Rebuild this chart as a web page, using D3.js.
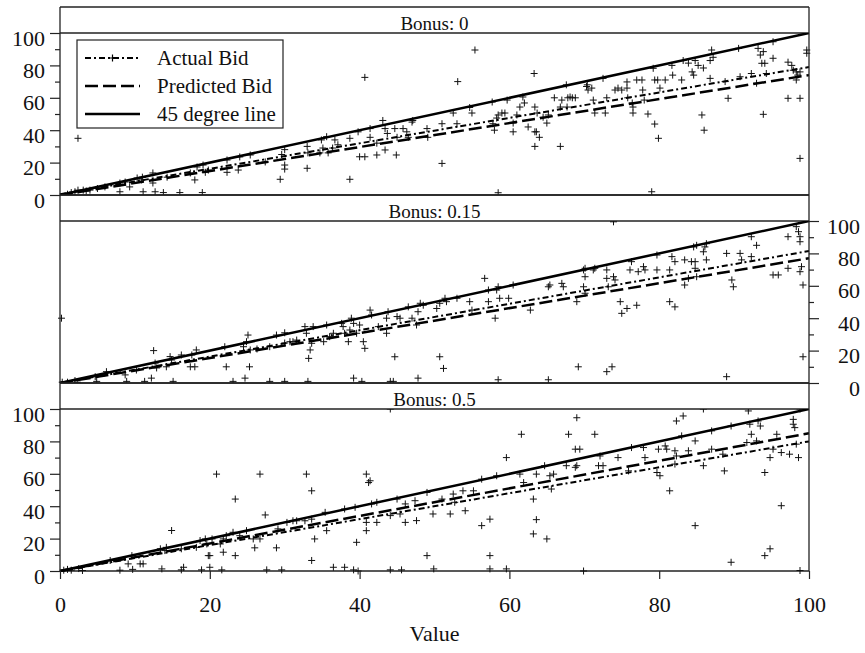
<!DOCTYPE html>
<html>
<head>
<meta charset="utf-8">
<script src="https://cdn.jsdelivr.net/npm/d3@7"></script>
<style>
  body { margin: 0; background: #fff; }
  svg text { font-family: "Liberation Serif", "Times New Roman", Times, serif; fill: #111; }
</style>
</head>
<body>
<svg id="chart"></svg>
<script>
const width = 865, height = 653;

// panel titles
const bonusLabels = ["Bonus: 0", "Bonus: 0.15", "Bonus: 0.5"];

// [value, actual bid]
const bonus0Bids = [
  [2.4,35],[2.4,3],[3.1,3],[1.5,1.5],[1,0.5],[2,2],[3.5,2.5],[4,3],[5,4],[6,5],
  [8,7.4],[8.7,8],[9.3,5],[8,2],[10.3,10.5],[10.9,9.3],[11,11],[11.1,2],[12.7,2],[13.8,1.5],
  [12.4,13.6],[12.4,7.4],[14.3,11],[16,1.5],[17.4,13.6],[18,9.3],[18.3,17.3],[19,1.5],[19.1,18.5],[19.8,15.4],
  [19.4,14],[22.3,21.6],[22.3,14],[23.8,15.4],[24,23.5],[25.4,24.7],[27.4,20.4],[29.4,9.7],[30,18.5],[30,16],
  [29.6,25],[30,28],[33,16.5],[33,30],[33.1,26],[34.7,26],[34.9,34],[35.1,29],[35.6,36],[35.8,26],
  [36.4,29],[36.7,34],[37.1,31],[38.7,9.7],[38.7,35],[39.8,39],[40,23.6],[40.7,23.6],[40.7,72.6],[41.4,41],
  [41.4,35.6],[42.3,24.7],[42.3,32],[43.1,46],[43.4,41],[43.4,27.8],[43.7,38],[44.7,41],[44.9,24.7],[45,35.6],
  [45.8,41],[46.3,39],[46.5,35.6],[47,45],[47.1,46],[49,41],[49.1,35.6],[51,44],[51,19.5],[52.5,50.6],
  [53,44],[53.1,70],[54.7,54],[55,50.6],[55.4,89.5],[57.7,57.4],[57.8,44],[58,40],[58.3,47.5],[58.5,49.4],
  [58.5,1.4],[59,50.6],[59.4,50.6],[59.7,58.6],[60.5,44.4],[60.5,39],[61,49.4],[61.4,54.3],[61.8,60.5],[62,56.8],
  [62.5,42],[63.3,75],[63.4,39],[63.4,30],[63.6,39],[64,35.6],[63.4,54.3],[63.7,50.6],[64.5,48],[65,44.4],
  [65.2,49.4],[66,60],[66.8,30],[67.6,68],[68.4,60],[68.8,60],[70.3,67],[66.8,54.3],[67,58.6],[67.7,54.3],
  [67.8,60],[68.1,60.5],[70.4,68],[70.5,64.8],[71,66],[71.2,58.6],[71.4,50.6],[72.8,50.6],[73,60],[72.5,72],
  [74.1,64.8],[74.5,66],[75,64.8],[75.7,69.8],[75.7,66],[75.8,60],[76.4,56.8],[76.5,54.3],[76.5,50.6],[77,71],
  [77.7,71],[77.8,64.8],[78,58.6],[78.5,50],[79,2],[79.2,78.2],[79.4,71],[79.4,43.8],[79.8,71],[79.9,35],
  [80.1,66],[80.8,71],[81.7,80],[81.8,74],[83,71],[83.2,83],[83.9,81.4],[84.4,76],[84.6,74],[84.8,83],
  [85.2,80],[85.9,78.4],[86.8,83],[87,89.5],[87.2,85],[85.7,49.4],[86,40],[86.8,72],[88.8,70],[89.2,59.7],
  [90.6,90.5],[90.8,73],[92.3,75],[93,69],[93.2,90.5],[93.5,86.4],[93.7,81.3],[93.9,88.5],[94.1,81.3],[93.9,49.8],
  [94.3,75],[95.2,94.6],[95.2,84.4],[97.2,82],[97.7,80],[97.9,77],[98.3,76],[98.3,71],[98.5,74],[98.8,76],
  [97.2,59.7],[98.8,59.7],[98.8,22.6],[99.7,89.5],[99.7,87.5]
];

const bonus15Bids = [
  [0.2,40],[0.3,0.5],[1,0.5],[2,1.5],[2.3,0.5],[4.7,3.9],[4.9,1],[6.2,7],[8.7,5],[8.9,1],
  [10.2,8],[11.3,1],[12.2,3],[12.5,20],[12.7,12.3],[12.9,9.3],[14.2,10],[14.7,16.3],[14.9,14.2],[15.1,1],
  [16.2,17.3],[17.4,10],[17.6,17.3],[18,10],[18.2,20.4],[22,22.4],[22.2,10],[23.1,1],[24.7,3],[24.9,25.5],
  [25.1,29.6],[25.3,10],[24.5,22.4],[25.4,20.4],[26.3,21],[28,22.4],[28,1],[28.9,29.6],[30,1],[30,31],
  [30,24.7],[31.1,25.5],[30.7,25.5],[31.6,26.5],[32.7,34.8],[32.9,30.7],[33.2,15.2],[33.4,20.4],[33.6,24.5],[33.8,34.8],
  [35.2,25.5],[35.6,35.8],[36,28.6],[33.1,1],[39.2,3],[40.3,1],[44.1,1],[44.5,1],[47.8,3],[36.5,30.7],
  [37.6,36.8],[37.8,34.8],[38,30.7],[38.5,25.5],[38.7,32.7],[38.9,40],[39.2,36.8],[39.6,30.7],[40,35.8],[40.5,25.5],
  [40.7,21.4],[41.4,45],[41.6,42],[42.5,34.8],[43.6,40],[43.6,30.7],[43.8,44],[44.7,16.2],[45,41],[45.4,40],
  [46.5,47],[47,40],[47.6,35.8],[47.8,44],[48.1,49.2],[48.5,48],[50.3,46],[50.7,49.2],[50.7,16.2],[51.2,9],
  [51.4,52.3],[51.6,50.2],[53,52.3],[54.7,50.2],[55,45],[56.7,64.6],[57.2,57.4],[57.2,50.2],[58.1,40],[58.3,57.4],
  [58.5,59.4],[58.7,52.3],[59.9,52.3],[60.5,60.5],[62.8,45],[58.5,2],[65.2,2],[65.2,59.4],[65.4,60.5],[67,61.5],
  [67.2,59.4],[69,50.2],[69.2,10],[69.9,69.8],[70.1,65.6],[69.9,59.4],[70.1,55.4],[70.1,70.8],[71.2,69.8],[71.4,70.8],
  [73,69.8],[73,64.6],[73.2,59.4],[73.9,65.6],[74.1,63.6],[74.8,50.2],[75,43],[75.7,46],[76.1,69.8],[76.3,74.9],
  [77,48],[77.2,68.7],[77.9,71.8],[78.1,69.8],[79.7,79],[79.7,69.8],[81.4,69.8],[81.4,50.2],[81.7,78],[82.1,47],
  [82.1,74.9],[83.4,76],[83.4,60.5],[83.9,64.6],[84.3,74.9],[84.8,74.9],[84.6,84],[85,85],[84.8,70.8],[85,65.6],
  [85.9,81],[86.1,84],[86.3,76],[86.3,86],[73,7],[73.7,10],[89,3.9],[89,80],[89.7,63.6],[89.9,59.4],
  [90.8,80],[91,76],[92.3,78],[92.3,90.3],[93,85],[95.2,66.7],[95.9,66.7],[97.2,70.8],[97.2,90.3],[98.3,96.5],
  [98.6,93.4],[98.8,90.3],[98.8,87.2],[99,71.8],[98.8,68.7],[99.2,60.5],[99.2,16.2],[73.9,99.5]
];

const bonus50Bids = [
  [0.5,0.5],[1,1],[1.5,0.5],[2.5,1.5],[3,0.3],[8,0.5],[9.7,1],[6.7,6.5],[9.1,4.4],[9.6,9.5],
  [10.7,4.4],[11.1,4.4],[13.4,13.7],[14,12.6],[14.2,14.6],[16.2,13.7],[18.2,14.6],[18.7,18.8],[19.4,19.8],[19.6,16.7],
  [20.3,19.8],[21.4,16.7],[21.8,19.8],[22.2,21.8],[23.1,23.9],[24,21.8],[24.9,24.9],[25.8,19.8],[26.7,19.8],[29.1,26],
  [30.3,30],[31.1,31],[20.9,59.8],[26.7,59.8],[23.4,44.4],[27.4,34.6],[14.9,25],[28.9,14.3],[26,14.3],[19.8,9.5],
  [20,9.5],[21.8,11.6],[23.4,9.5],[16.5,2.3],[16.2,0.7],[13.6,1.3],[18.9,0.7],[20,2.3],[21.6,0.7],[27.6,0.7],
  [29.6,0.7],[32.9,59.8],[33.6,49.5],[40.9,59.8],[41.2,54.6],[41.4,55.7],[59.6,70],[61.6,84.4],[67.9,84.4],[69,94.6],
  [68.8,75.2],[69.4,75.2],[67.6,65],[69,65],[34,19.8],[39.6,17.7],[33.6,6.5],[49,9.5],[57.4,9.5],[49.9,1.3],
  [56.3,28],[57.4,32],[63.2,44.4],[63.6,31.7],[63.2,22.9],[65,19.8],[54.1,37.2],[52.1,35.2],[49.8,35.2],[47.6,31.1],
  [46.1,30],[40.9,24.9],[40.9,30],[42.3,30],[35.6,24.9],[31.6,31],[32.7,31],[33.6,32],[35.4,36.2],[38,38.3],
  [39.4,39.3],[41.6,41.4],[42.3,42.4],[44.1,34.2],[45,44.4],[45.4,35.2],[46.1,41.4],[47.4,43.4],[49,48.5],[51,44.4],
  [52.5,47.5],[52.7,42.4],[53.8,49.5],[55.2,49.5],[56.3,56.7],[58.3,58.8],[61.4,59.8],[61.9,54.6],[63.6,59.8],[64.7,65],
  [65.4,58.8],[65.6,50.6],[65.9,59.8],[36.5,2.3],[38,2.3],[39.2,0.7],[39.8,0],[44.1,0.7],[45.6,0.7],[57.4,1.3],
  [59.6,1.3],[69.9,0],[44.1,100],[71.4,84.4],[68.8,64],[71.9,65],[72.5,65],[72.1,71],[74.5,70],[75.9,61.8],
  [76.3,76.2],[77.9,76.2],[78.1,70],[79.7,60.8],[80.1,58.8],[79.9,75.2],[80.8,77.2],[81,75.2],[81.4,49.5],[82.1,66],
  [82.3,92.6],[83.2,95.7],[82.1,74.2],[82.3,71],[83,83.4],[83.9,74.2],[84.8,80.3],[84.8,28],[85.9,65],[87,75.2],
  [87,86.5],[88.5,72.1],[88.7,61.8],[89.6,89.5],[89.6,5.4],[91.7,79.3],[91.9,98.8],[92.1,90.6],[92.3,84.4],[93,80.3],
  [93.2,92.6],[93.5,89.5],[94.1,60.8],[94.1,9.5],[94.8,13.7],[94.8,70],[95.2,75.2],[95.7,84.4],[96.3,40.3],[96.3,73.1],
  [97.4,72.1],[97.9,93.6],[97.9,90.6],[98.1,88.5],[98.3,78.3],[98.6,70],[98.8,0.3],[85.9,100],[98.8,100]
];

// fitted lines, [value, bid] end points per panel
const actualFit = [[[0,0.5],[100,79]], [[0,0],[100,81.5]], [[0,0],[100,80]]];
const predictedFit = [[[0,0],[100,74]], [[0,0],[100,77]], [[0,0],[100,85]]];
const diagonal = [[0,0],[100,100]];

const xTicks = [0,20,40,60,80,100];
const yTicks = [0,20,40,60,80,100];
const yMinorTicks = [10,30,50,70,90];
const legendLabels = ["Actual Bid", "Predicted Bid", "45 degree line"];

const panels = [bonus0Bids, bonus15Bids, bonus50Bids];

const svg = d3.select("#chart")
  .attr("width", width)
  .attr("height", height);

const plotLeft = 60, plotRight = 809, frameTop = 7;
const stripH = 26, plotH = 162, panelH = stripH + plotH;
const serif = '"Liberation Serif", "Times New Roman", Times, serif';

const x = d3.scaleLinear().domain([0, 100]).range([plotLeft, plotRight]);

const plus = "M-3.5,0H3.5M0,-3.5V3.5";
const lineStyles = {
  actual: { dash: "6,3,2,3", w: 2 },
  predicted: { dash: "13,5", w: 2.5 },
  diag: { dash: null, w: 2.5 }
};

const defs = svg.append("defs");

panels.forEach((pts, i) => {
  const y0 = frameTop + i * panelH;
  const plotTop = y0 + stripH, plotBottom = plotTop + plotH;
  const y = d3.scaleLinear().domain([0, 100]).range([plotBottom, plotTop]);
  const g = svg.append("g");

  // points stay inside their own panel (last one may spill below the frame)
  defs.append("clipPath")
    .attr("id", "clip" + i)
    .append("rect")
    .attr("x", plotLeft - 6).attr("y", plotTop)
    .attr("width", plotRight - plotLeft + 12)
    .attr("height", plotH + (i === 2 ? 8 : 0));

  // strip label
  g.append("text")
    .attr("x", (plotLeft + plotRight) / 2)
    .attr("y", y0 + 23)
    .attr("text-anchor", "middle")
    .style("font-family", serif)
    .style("font-size", "19px")
    .text(bonusLabels[i]);

  // horizontal frame lines
  [y0, plotTop, plotBottom].forEach(yy => {
    g.append("line")
      .attr("x1", plotLeft).attr("x2", plotRight)
      .attr("y1", yy).attr("y2", yy)
      .attr("stroke", "#222").attr("stroke-width", 1.3);
  });

  // y axis (right side for the middle panel)
  const onRight = i === 1;
  const axisFn = onRight ? d3.axisRight : d3.axisLeft;
  const ax = g.append("g")
    .attr("transform", `translate(${onRight ? plotRight : plotLeft},0)`)
    .call(axisFn(y).tickValues(yTicks).tickSize(10).tickPadding(5));
  g.append("g")
    .attr("transform", `translate(${onRight ? plotRight : plotLeft},0)`)
    .call(axisFn(y).tickValues(yMinorTicks).tickSize(5).tickFormat(""))
    .call(a => a.select(".domain").remove());
  ax.select(".domain").remove();
  g.selectAll("g.tick line").attr("stroke", "#222").attr("stroke-width", 1.2);
  ax.selectAll("text")
    .style("font-family", serif)
    .style("font-size", "22px")
    .attr("dy", "0.55em")
    .attr("text-anchor", "end")
    .attr("x", onRight ? 51 : -15);

  const inner = g.append("g").attr("clip-path", `url(#clip${i})`);

  // scatter of actual bids
  inner.selectAll("path.pt")
    .data(pts)
    .enter().append("path")
    .attr("class", "pt")
    .attr("d", plus)
    .attr("transform", d => `translate(${x(d[0])},${y(d[1])})`)
    .attr("stroke", "#111")
    .attr("stroke-width", 1)
    .attr("fill", "none");

  const line = d3.line().x(d => x(d[0])).y(d => y(d[1]));
  [[diagonal, lineStyles.diag], [predictedFit[i], lineStyles.predicted], [actualFit[i], lineStyles.actual]]
    .forEach(([dat, st]) => {
      inner.append("path")
        .datum(dat)
        .attr("d", line)
        .attr("fill", "none")
        .attr("stroke", "#000")
        .attr("stroke-width", st.w)
        .attr("stroke-dasharray", st.dash);
    });
});

// outer left/right borders
const frameBottom = frameTop + 3 * panelH;
[plotLeft, plotRight].forEach(xx => {
  svg.append("line")
    .attr("x1", xx).attr("x2", xx)
    .attr("y1", frameTop).attr("y2", frameBottom)
    .attr("stroke", "#222").attr("stroke-width", 1.3);
});

// x axis
const xAxis = svg.append("g")
  .attr("transform", `translate(0,${frameBottom})`)
  .call(d3.axisBottom(x).tickValues(xTicks).tickSize(8));
xAxis.select(".domain").remove();
xAxis.selectAll("line").attr("stroke", "#222").attr("stroke-width", 1.2);
xAxis.selectAll("text")
  .style("font-family", serif)
  .style("font-size", "22px")
  .attr("y", 41)
  .attr("dy", 0);

svg.append("text")
  .attr("x", (plotLeft + plotRight) / 2)
  .attr("y", 641)
  .attr("text-anchor", "middle")
  .style("font-family", serif)
  .style("font-size", "22px")
  .text("Value");

// legend
const legend = svg.append("g");
legend.append("rect")
  .attr("x", 77).attr("y", 40)
  .attr("width", 206).attr("height", 88)
  .attr("fill", "#fff")
  .attr("stroke", "#222").attr("stroke-width", 1.2);
const legendStyles = [lineStyles.actual, lineStyles.predicted, lineStyles.diag];
legendLabels.forEach((lab, k) => {
  const ly = 58 + k * 28;
  legend.append("line")
    .attr("x1", 85).attr("x2", 140)
    .attr("y1", ly).attr("y2", ly)
    .attr("stroke", "#000")
    .attr("stroke-width", legendStyles[k].w)
    .attr("stroke-dasharray", legendStyles[k].dash);
  if (k === 0) {
    legend.append("path")
      .attr("d", plus)
      .attr("transform", `translate(112.5,${ly})`)
      .attr("stroke", "#000").attr("stroke-width", 1.2);
  }
  legend.append("text")
    .attr("x", 157).attr("y", ly + 7)
    .style("font-family", serif)
    .style("font-size", "21px")
    .text(lab);
});
</script>
</body>
</html>
